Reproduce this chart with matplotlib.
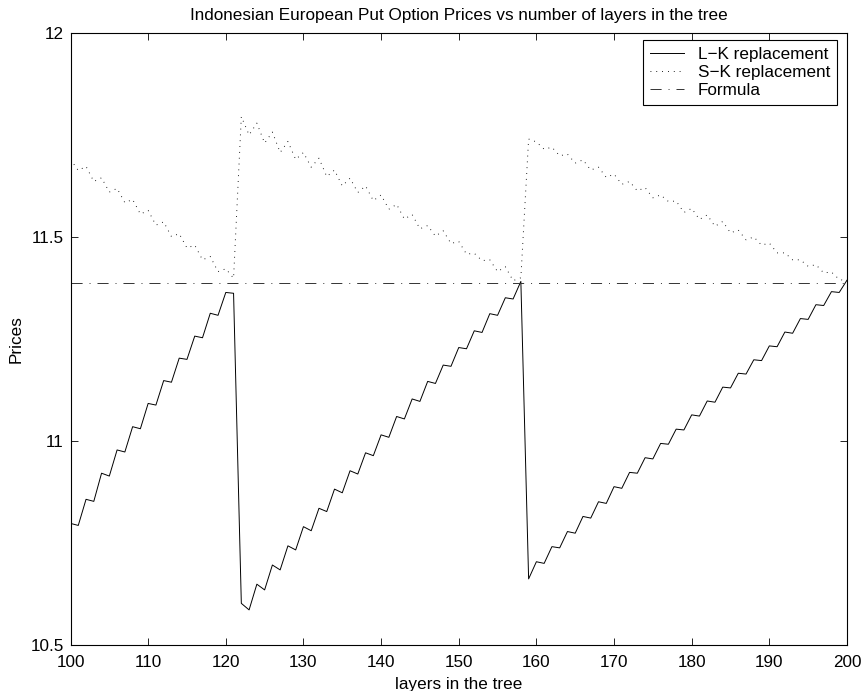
import matplotlib
matplotlib.use("Agg")
import matplotlib.pyplot as plt
import numpy as np

plt.rcParams['font.family'] = ['Liberation Sans', 'DejaVu Sans']
plt.rcParams['font.size'] = 12.3
plt.rcParams['lines.scale_dashes'] = False

# number of layers in the tree
layers = np.arange(100, 201)

# L-K replacement prices, layers 100..200
lk_prices = [
    10.798, 10.793, 10.857, 10.852, 10.921, 10.914, 10.978, 10.973, 11.035, 11.030,
    11.092, 11.088, 11.148, 11.144, 11.203, 11.200, 11.257, 11.253, 11.313, 11.308,
    11.364, 11.362, 10.602, 10.586, 10.649, 10.635, 10.696, 10.684, 10.743, 10.733,
    10.790, 10.780, 10.835, 10.827, 10.882, 10.873, 10.927, 10.919, 10.971, 10.964,
    11.015, 11.009, 11.060, 11.054, 11.103, 11.097, 11.146, 11.141, 11.186, 11.183,
    11.229, 11.226, 11.270, 11.266, 11.312, 11.308, 11.351, 11.348, 11.391, 10.662,
    10.704, 10.700, 10.741, 10.738, 10.778, 10.774, 10.815, 10.811, 10.851, 10.847,
    10.888, 10.884, 10.923, 10.921, 10.959, 10.956, 10.994, 10.992, 11.029, 11.027,
    11.064, 11.061, 11.098, 11.095, 11.132, 11.130, 11.166, 11.164, 11.199, 11.197,
    11.233, 11.231, 11.267, 11.264, 11.300, 11.298, 11.334, 11.332, 11.366, 11.364,
    11.394,
]

# S-K replacement prices, layers 100..200
sk_prices = [
    11.690, 11.663, 11.673, 11.636, 11.645, 11.610, 11.619, 11.584, 11.592, 11.556,
    11.565, 11.529, 11.537, 11.501, 11.508, 11.473, 11.480, 11.444, 11.452, 11.415,
    11.422, 11.399, 11.795, 11.750, 11.779, 11.730, 11.757, 11.707, 11.734, 11.690,
    11.707, 11.671, 11.693, 11.648, 11.664, 11.625, 11.644, 11.609, 11.625, 11.589,
    11.603, 11.568, 11.580, 11.544, 11.555, 11.520, 11.528, 11.502, 11.515, 11.484,
    11.489, 11.458, 11.460, 11.442, 11.444, 11.415, 11.427, 11.393, 11.400, 11.740,
    11.733, 11.715, 11.720, 11.699, 11.703, 11.681, 11.689, 11.664, 11.671, 11.646,
    11.654, 11.629, 11.636, 11.613, 11.621, 11.596, 11.603, 11.587, 11.588, 11.560,
    11.570, 11.543, 11.554, 11.526, 11.538, 11.510, 11.517, 11.493, 11.500, 11.480,
    11.485, 11.461, 11.461, 11.444, 11.444, 11.428, 11.432, 11.412, 11.414, 11.396,
    11.392,
]

formula_price = 11.387

fig = plt.figure(figsize=(8.64, 6.91), dpi=100)
ax = fig.add_axes([0.0816, 0.0666, 0.8987, 0.8857])

ax.plot(layers, lk_prices, color='black', linewidth=0.7, label='L\u2212K replacement')
ax.plot(layers, sk_prices, color='black', linewidth=0.7, linestyle=(0, (0.6, 3.6)),
        label='S\u2212K replacement')
ax.plot(layers, np.full(len(layers), formula_price), color='#333333', linewidth=0.7,
        linestyle=(0, (8, 5, 0.7, 5)), label='Formula')

ax.set_xlim(100, 200)
ax.set_ylim(10.5, 12)
ax.set_xticks(np.arange(100, 201, 10))
ax.set_yticks([10.5, 11, 11.5, 12])
ax.set_yticklabels(['10.5', '11', '11.5', '12'])
ax.tick_params(direction='in', length=5, width=0.6, top=True, right=True)
ax.tick_params(axis='x', pad=7)
ax.tick_params(axis='y', pad=5)
for s in ax.spines.values():
    s.set_linewidth(0.8)

ax.set_title('Indonesian European Put Option Prices vs number of layers in the tree',
             fontsize=12.3, pad=9)
ax.set_xlabel('layers in the tree', labelpad=5)
ax.set_ylabel('Prices', labelpad=5)

leg = ax.legend(loc='upper right', bbox_to_anchor=(0.987, 0.989), borderaxespad=0,
                fancybox=False, framealpha=1, edgecolor='black',
                handlelength=2.0, handletextpad=0.8, borderpad=0.4, labelspacing=0.2)
leg.get_frame().set_linewidth(0.8)

fig.savefig('out.png', dpi=100)
